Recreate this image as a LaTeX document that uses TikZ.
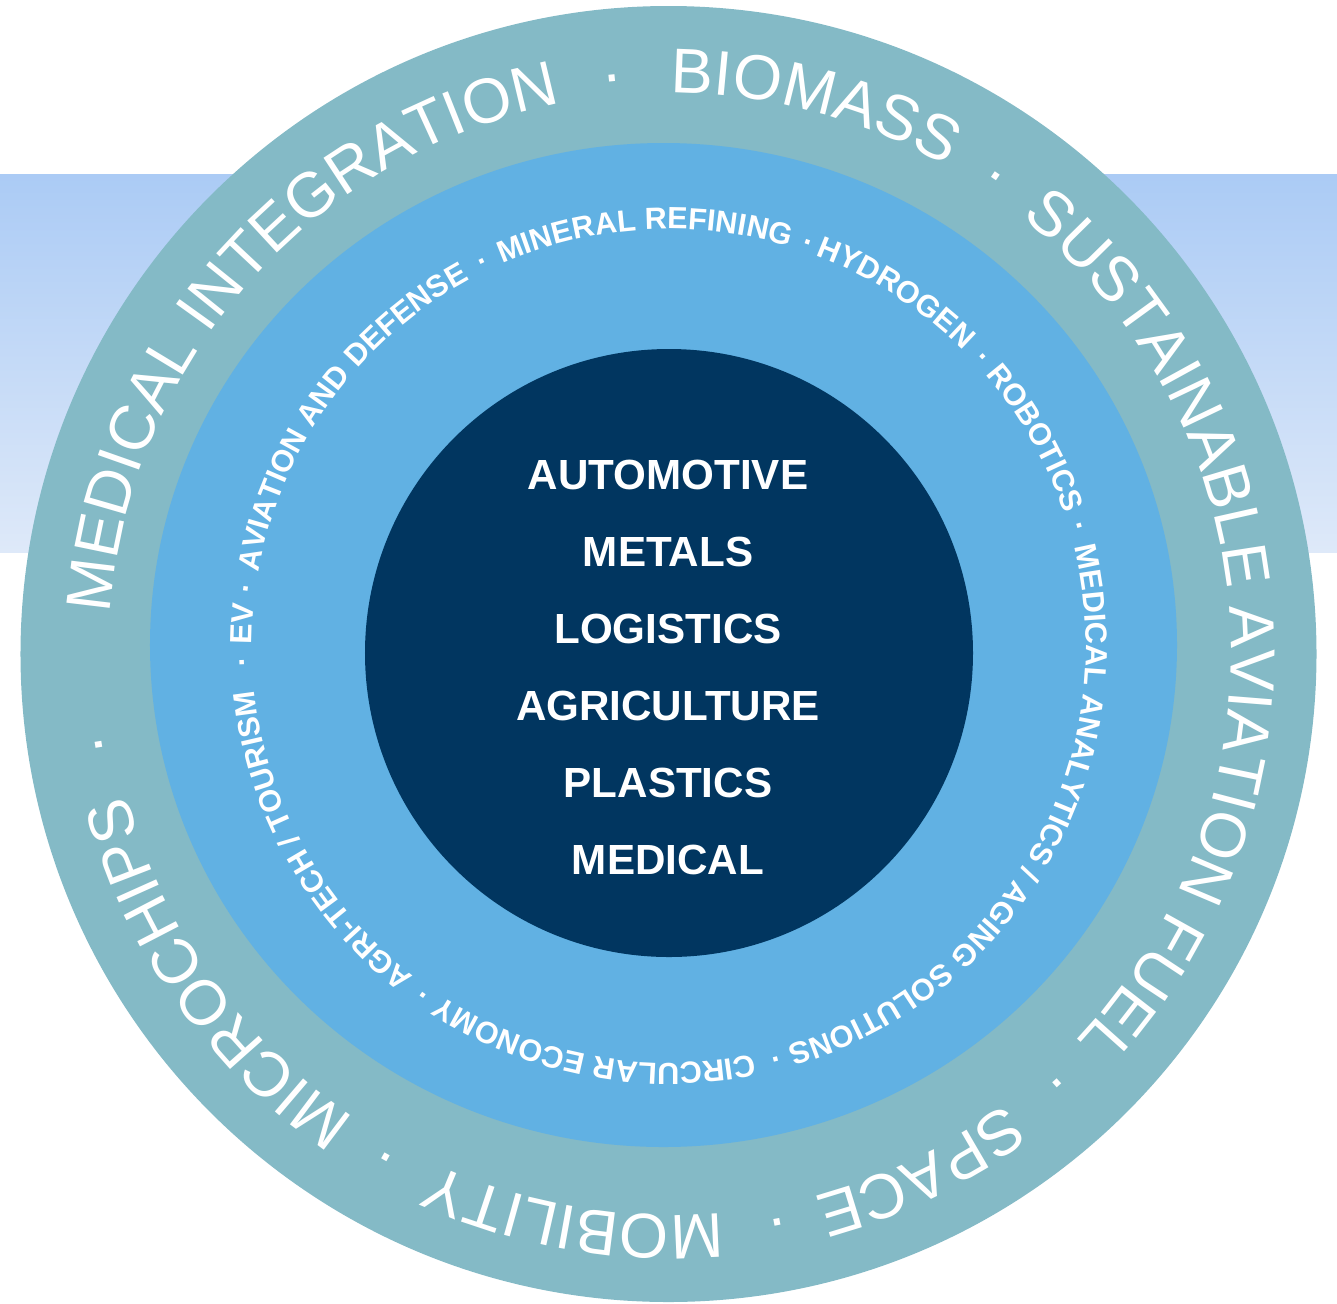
\documentclass[tikz,border=0pt]{standalone}
\usepackage{fontspec}
\setmainfont{Liberation Sans}
\usetikzlibrary{decorations.text}
\definecolor{bandtop}{RGB}{171,203,245}
\definecolor{bandbottom}{RGB}{222,233,249}
\definecolor{ringteal}{RGB}{132,186,198}
\definecolor{ringblue}{RGB}{97,177,227}
\definecolor{corenavy}{RGB}{1,54,96}
\newcommand\outerfont{\fontsize{36}{36}\selectfont}
\newcommand\midfont{\bfseries\fontsize{17.4}{17.4}\selectfont}
\newcommand\corefont{\bfseries\fontsize{24}{24}\selectfont}

\begin{document}
\begin{tikzpicture}[x=0.02cm, y=0.02cm,
    outer text/.style={decorate, decoration={text along path, text align=center,
      text color=white, text={|\outerfont|#1}}},
    mid text/.style={decorate, decoration={text along path, text align=center,
      text color=white, text={|\midfont|#1}}},
    outerdot/.style={text=white, font=\outerfont, anchor=base, inner sep=0pt},
    middot/.style={text=white, font=\midfont, anchor=base, inner sep=0pt},
    core/.style={text=white, font=\corefont, anchor=base}]
  \useasboundingbox (-668,-649) rectangle (669,654);
  \shade[top color=bandtop, bottom color=bandbottom] (-668,102) rectangle (669,480);
  \fill[ringteal] (0.5,0) circle (648);
  \fill[ringblue] (-4.5,9) ellipse [x radius=513.5, y radius=502];
  \fill[corenavy] (1,1) circle (304);

  \begin{scope}[shift={(2,0)}]
    \path[outer text=MEDICAL INTEGRATION] (228.5:561) arc[start angle=228.5, end angle=48.5, radius=561];
    \path[outer text=BIOMASS] (165.2:561) arc[start angle=165.2, end angle=-14.8, radius=561];
    \path[outer text=SUSTAINABLE AVIATION FUEL] (93.8:561) arc[start angle=93.8, end angle=-86.2, radius=561];
    \path[outer text=SPACE] (25.8:561) arc[start angle=25.8, end angle=-154.2, radius=561];
    \path[outer text=MOBILITY] (-9.7:561) arc[start angle=-9.7, end angle=-189.7, radius=561];
    \path[outer text=MICROCHIPS] (-54.8:561) arc[start angle=-54.8, end angle=-234.8, radius=561];
    \node[outerdot, rotate=5.7] (od1) at (95.7:561) {·};
    \node[outerdot, rotate=-34.3] (od2) at (55.7:561) {·};
    \node[outerdot, rotate=-138] (od3) at (-48:561) {·};
    \node[outerdot, rotate=-169.3] (od4) at (-79.3:561) {·};
    \node[outerdot, rotate=-209.4] (od5) at (-119.4:561) {·};
    \node[outerdot, rotate=99] (od6) at (189:561) {·};
  \end{scope}

  \begin{scope}[shift={(1,8)}]
    \path[mid text=EV] (267:417) arc[start angle=267, end angle=87, radius=417];
    \path[mid text=AVIATION AND DEFENSE] (234.2:417) arc[start angle=234.2, end angle=54.2, radius=417];
    \path[mid text=MINERAL REFINING] (183.4:417) arc[start angle=183.4, end angle=3.4, radius=417];
    \path[mid text=HYDROGEN] (147.3:417) arc[start angle=147.3, end angle=-32.7, radius=417];
    \path[mid text=ROBOTICS] (119.6:417) arc[start angle=119.6, end angle=-60.4, radius=417];
    \path[mid text=MEDICAL ANALYTICS / AGING SOLUTIONS] (60.1:417) arc[start angle=60.1, end angle=-119.9, radius=417];
    \path[mid text=CIRCULAR ECONOMY] (-10.7:417) arc[start angle=-10.7, end angle=-190.7, radius=417];
    \path[mid text=AGRI-TECH / TOURISM] (-60.8:417) arc[start angle=-60.8, end angle=-240.8, radius=417];
    \node[middot, rotate=82.2] (md1) at (172.2:417) {·};
    \node[middot, rotate=25.8] (md2) at (115.8:417) {·};
    \node[middot, rotate=-19.1] (md3) at (70.9:417) {·};
    \node[middot, rotate=-47.4] (md4) at (42.6:417) {·};
    \node[middot, rotate=-73.8] (md5) at (16.2:417) {·};
    \node[middot, rotate=-165.6] (md6) at (-75.6:417) {·};
    \node[middot, rotate=-215.3] (md7) at (-125.3:417) {·};
    \node[middot, rotate=92.1] (md8) at (182.1:417) {·};
  \end{scope}

  \node[core] (automotive) at (0,165) {AUTOMOTIVE};
  \node[core] (metals) at (0,88) {METALS};
  \node[core] (logistics) at (0,11) {LOGISTICS};
  \node[core] (agriculture) at (0,-66) {AGRICULTURE};
  \node[core] (plastics) at (0,-143) {PLASTICS};
  \node[core] (medical) at (0,-220) {MEDICAL};
\end{tikzpicture}
\end{document}
